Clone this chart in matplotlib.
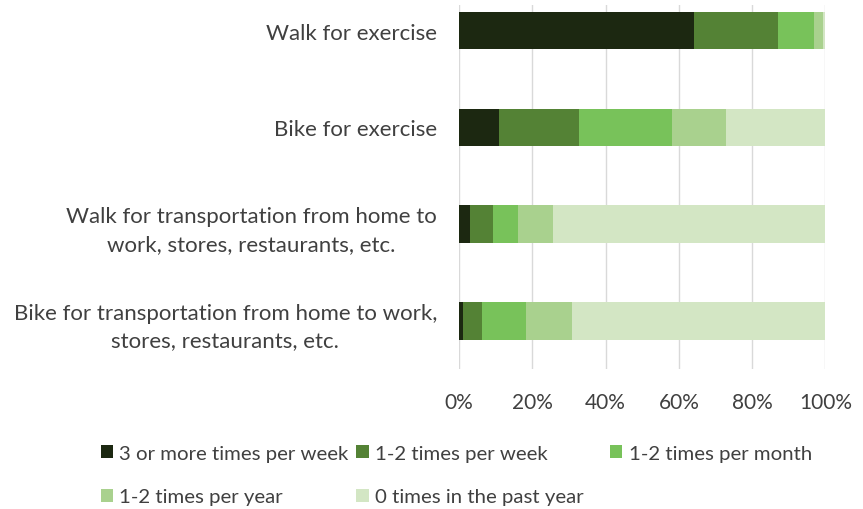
"""Stacked horizontal bars: walking and biking frequency"""

import numpy as np
import matplotlib.pyplot as plt

# Data (percent of respondents)
categories = [
    'Walk for exercise',
    'Bike for exercise',
    'Walk for transportation from home to\nwork, stores, restaurants, etc.',
    'Bike for transportation from home to work,\nstores, restaurants, etc.',
]
series_names = [
    '3 or more times per week',
    '1-2 times per week',
    '1-2 times per month',
    '1-2 times per year',
    '0 times in the past year',
]
week3 = [64.2, 10.9, 3.0, 1.1]
week12 = [22.9, 21.9, 6.3, 5.2]
month12 = [9.8, 25.2, 6.8, 11.9]
year12 = [2.4, 14.9, 9.6, 12.6]
never = [0.7, 27.1, 74.3, 69.2]

colors = ['#1C2811', '#548235', '#78C25A', '#A9D18E', '#D3E6C4']
text_color = '#404040'

plt.rcParams['font.family'] = ['Lato', 'DejaVu Sans']

fig = plt.figure(figsize=(8.63, 5.10), dpi=100)
ax = fig.add_axes([0.532, 0.2745, 0.4245, 0.7135])

y = np.arange(len(categories))
left = np.zeros(len(categories))
handles = []
for vals, name, col in zip([week3, week12, month12, year12, never], series_names, colors):
    b = ax.barh(y, vals, left=left, height=0.39, color=col, label=name, zorder=3)
    handles.append(b)
    left += np.array(vals)

ax.set_xlim(0, 100)
ax.set_ylim(3.495, -0.263)
ax.set_xticks(range(0, 101, 20))
ax.set_xticklabels([f'{v}%' for v in range(0, 101, 20)], fontsize=15)
ax.set_yticks(y)
ax.set_yticklabels(categories, multialignment='center', linespacing=1.47, fontsize=16)
ax.tick_params(axis='both', length=0, colors=text_color)
ax.tick_params(axis='y', pad=16)
ax.tick_params(axis='x', pad=16.5)
ax.grid(axis='x', color='#D9D9D9', linewidth=1, zorder=0)
for s in ax.spines.values():
    s.set_visible(False)

# Legend, three columns laid out row by row
leg_kw = dict(loc='upper left', frameon=False, fontsize=14.7, handlelength=0.6,
              handleheight=0.6, handletextpad=0.3, labelspacing=1.3,
              borderaxespad=0, borderpad=0, labelcolor=text_color)
top = 0.126
fig.legend([handles[0], handles[3]], [series_names[0], series_names[3]],
           bbox_to_anchor=(0.117, top), **leg_kw)
fig.legend([handles[1], handles[4]], [series_names[1], series_names[4]],
           bbox_to_anchor=(0.413, top), **leg_kw)
fig.legend([handles[2]], [series_names[2]],
           bbox_to_anchor=(0.707, top), **leg_kw)

fig.savefig('out.png', dpi=100)
